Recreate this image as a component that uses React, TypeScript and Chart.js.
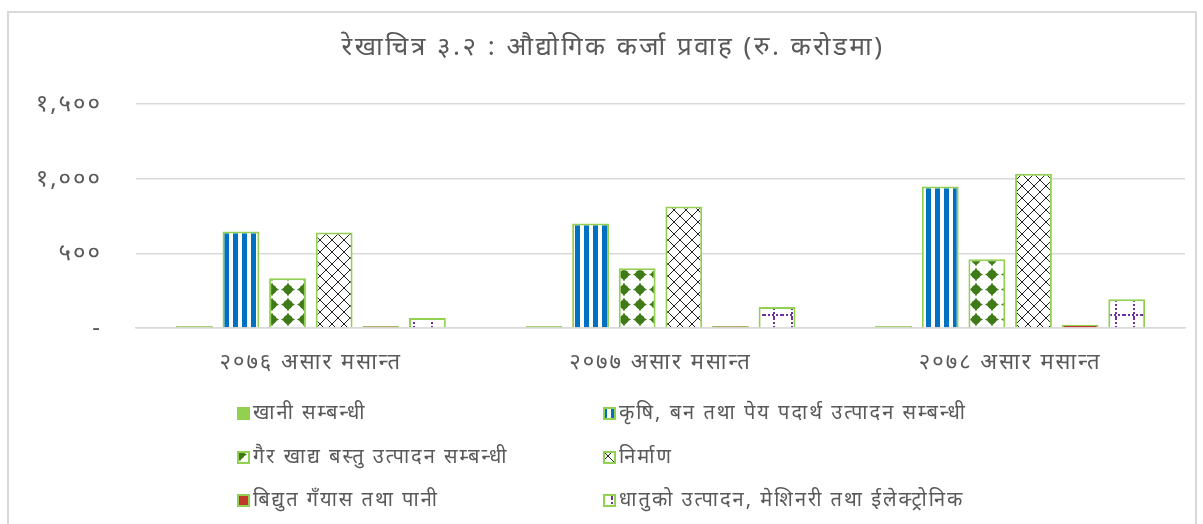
import React, { useEffect, useRef } from "react";
import { Chart, registerables } from "chart.js";

Chart.register(...registerables);

const titleText = "रेखाचित्र ३.२ : औद्योगिक कर्जा प्रवाह (रु. करोडमा)";
const categories = ["२०७६ असार मसान्त", "२०७७ असार मसान्त", "२०७८ असार मसान्त"];
const yTickValues = [0, 500, 1000, 1500];
const yTickLabels = ["-", "५००", "१,०००", "१,५००"];

const seriesNames = [
  "खानी सम्बन्धी",
  "कृषि, बन तथा पेय पदार्थ उत्पादन सम्बन्धी",
  "गैर खाद्य बस्तु उत्पादन सम्बन्धी",
  "निर्माण",
  "बिद्युत गँयास तथा पानी",
  "धातुको उत्पादन, मेशिनरी तथा ईलेक्ट्रोनिक",
];
const khaniValues = [3, 3, 8];
const krishiValues = [647, 700, 947];
const gairValues = [333, 400, 460];
const nirmanValues = [640, 813, 1033];
const bidyutValues = [8, 10, 22];
const dhatuValues = [67, 140, 193];

const FONT = "'Noto Sans', 'DejaVu Sans', sans-serif";
const TEXT = "#595959";
const GREEN = "#92D050";

function makeTile(w: number, h: number, draw: (c: CanvasRenderingContext2D) => void) {
  const cv = document.createElement("canvas");
  cv.width = w;
  cv.height = h;
  const c = cv.getContext("2d")!;
  c.fillStyle = "#ffffff";
  c.fillRect(0, 0, w, h);
  draw(c);
  return cv;
}

function buildPatterns(ctx: CanvasRenderingContext2D) {
  const stripes = makeTile(9, 9, (c) => {
    c.fillStyle = "#0070C0";
    c.fillRect(0, 0, 5, 9);
  });
  const blobs = makeTile(16, 15, (c) => {
    c.fillStyle = "#3F7A18";
    const cx = 8, cy = 7.5;
    c.beginPath();
    c.moveTo(cx, cy - 7);
    c.quadraticCurveTo(cx + 2, cy - 2, cx + 7, cy);
    c.quadraticCurveTo(cx + 2, cy + 2, cx, cy + 7);
    c.quadraticCurveTo(cx - 2, cy + 2, cx - 7, cy);
    c.quadraticCurveTo(cx - 2, cy - 2, cx, cy - 7);
    c.fill();
    c.beginPath();
    c.arc(cx, cy, 4.5, 0, Math.PI * 2);
    c.fill();
  });
  const lattice = makeTile(12, 12, (c) => {
    c.fillStyle = "#222222";
    for (let i = 0; i < 12; i++) {
      c.fillRect(i, i, 1, 1);
      c.fillRect(11 - i, i, 1, 1);
    }
  });
  const dotted = makeTile(18, 18, (c) => {
    c.fillStyle = "#7030A0";
    for (let i = 0; i < 18; i += 4) {
      c.fillRect(i, 14, 2, 2);
      c.fillRect(9, i, 2, 2);
    }
  });
  return {
    stripes: ctx.createPattern(stripes, "repeat")!,
    blobs: ctx.createPattern(blobs, "repeat")!,
    lattice: ctx.createPattern(lattice, "repeat")!,
    dotted: ctx.createPattern(dotted, "repeat")!,
  };
}

export default function App() {
  const ref = useRef<HTMLCanvasElement>(null);

  useEffect(() => {
    const canvas = ref.current!;
    const ctx = canvas.getContext("2d")!;
    const p = buildPatterns(ctx);
    const fills: any[] = [GREEN, p.stripes, p.blobs, p.lattice, "#C0392B", p.dotted];
    const values = [khaniValues, krishiValues, gairValues, nirmanValues, bidyutValues, dhatuValues];

    const overlay = {
      id: "overlay",
      beforeDraw(chart: any) {
        (chart.ctx as any).letterSpacing = "2px";
      },
      afterDraw(chart: any) {
        const c = chart.ctx as any;
        c.save();
        c.letterSpacing = "2.5px";
        c.fillStyle = TEXT;
        c.font = `26px ${FONT}`;
        c.textAlign = "center";
        c.textBaseline = "middle";
        c.fillText(titleText, 605, 36);
        // legend
        const colX = [229, 595];
        const rowY = [401, 445, 488];
        c.letterSpacing = "2px";
        chart.data.datasets.forEach((ds: any, i: number) => {
          const x = colX[i % 2];
          const y = rowY[Math.floor(i / 2)];
          c.fillStyle = ds.backgroundColor;
          c.fillRect(x, y - 6, 13, 13);
          c.strokeStyle = GREEN;
          c.lineWidth = 2;
          c.strokeRect(x + 1, y - 5, 11, 11);
          c.fillStyle = TEXT;
          c.font = `20px ${FONT}`;
          c.textAlign = "left";
          c.textBaseline = "middle";
          c.fillText(ds.label, x + 16, y);
        });
        c.restore();
      },
    };

    const chart = new Chart(canvas, {
      type: "bar",
      data: {
        labels: categories,
        datasets: seriesNames.map((name, i) => ({
          label: name,
          data: values[i],
          backgroundColor: fills[i],
          borderColor: GREEN,
          borderWidth: 2,
          minBarLength: 2,
          categoryPercentage: 0.8,
          barPercentage: 0.79,
        })),
      },
      options: {
        animation: false,
        responsive: false,
        maintainAspectRatio: false,
        layout: { padding: { top: 92, left: 0, right: 9, bottom: 136 } },
        plugins: {
          legend: { display: false },
          title: { display: false },
          tooltip: { enabled: false },
        },
        scales: {
          x: {
            grid: { display: false },
            border: { display: true, color: "#d9d9d9", width: 1.5 },
            ticks: { color: TEXT, font: { family: FONT, size: 22 }, padding: 14 },
            afterFit: (s: any) => { s.height = 60; },
          },
          y: {
            min: 0,
            max: 1500,
            afterBuildTicks: (s: any) => { s.ticks = yTickValues.map((v) => ({ value: v })); },
            grid: { color: "#d9d9d9", lineWidth: 1.5, drawTicks: false },
            border: { display: false },
            ticks: {
              color: TEXT,
              font: { family: FONT, size: 24 },
              padding: 34,
              callback: (v: any) => yTickLabels[yTickValues.indexOf(Number(v))] ?? "",
            },
            afterFit: (s: any) => { s.width = 128; },
          },
        },
      },
      plugins: [overlay],
    });
    return () => chart.destroy();
  }, []);

  return (
    <div>
      <div
        style={{
          position: "absolute",
          left: 7,
          top: 11,
          width: 1190,
          height: 513,
          borderTop: "2px solid #d9d9d9",
          borderLeft: "2px solid #d9d9d9",
          borderRight: "2px solid #d9d9d9",
          boxSizing: "border-box",
        }}
      />
      <canvas
        ref={ref}
        width={1186}
        height={512}
        style={{ position: "absolute", left: 8, top: 12, width: 1186, height: 512 }}
      />
    </div>
  );
}
